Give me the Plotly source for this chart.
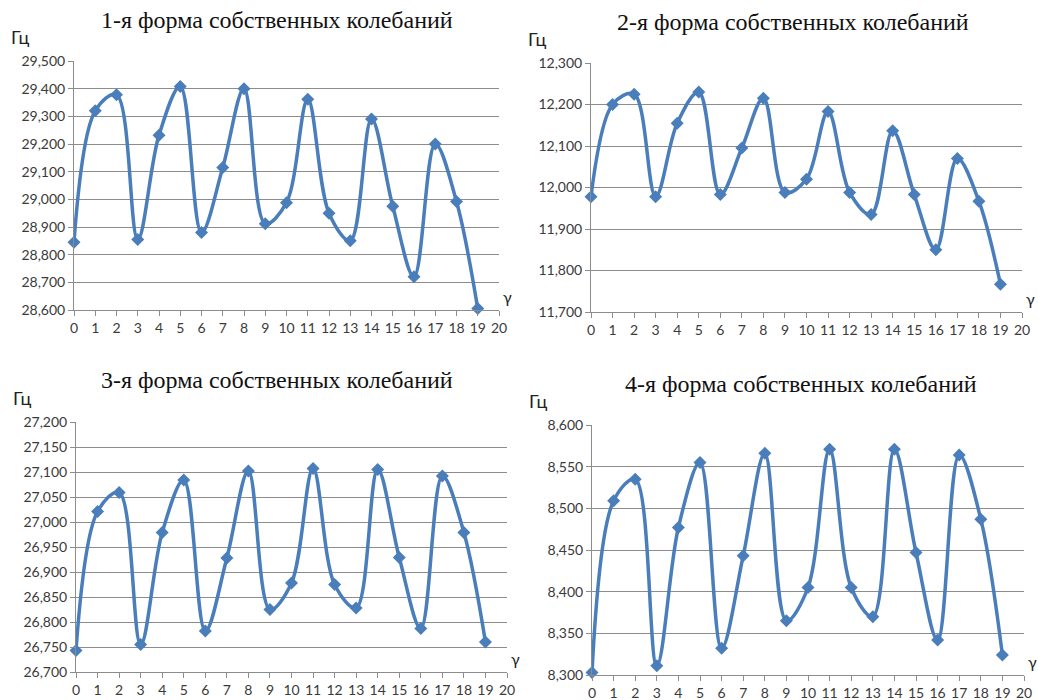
import plotly.graph_objects as go

gamma = list(range(20))

mode1 = [28845, 29320, 29378, 28855, 29232, 29408, 28880, 29115, 29400, 28912,
         28988, 29362, 28950, 28850, 29290, 28975, 28720, 29200, 28992, 28605]
mode2 = [11978, 12200, 12225, 11978, 12155, 12230, 11983, 12095, 12215, 11988,
         12020, 12183, 11988, 11935, 12137, 11983, 11850, 12070, 11967, 11767]
mode3 = [26743, 27021, 27059, 26755, 26979, 27084, 26782, 26928, 27102, 26825,
         26878, 27107, 26875, 26828, 27105, 26929, 26787, 27092, 26979, 26760]
mode4 = [8303, 8509, 8535, 8311, 8477, 8555, 8332, 8443, 8566, 8365,
         8405, 8571, 8405, 8370, 8571, 8447, 8342, 8564, 8487, 8324]

titles = ["1-я форма собственных колебаний", "2-я форма собственных колебаний",
          "3-я форма собственных колебаний", "4-я форма собственных колебаний"]
y_ranges = [(28600, 29500, 100), (11700, 12300, 100), (26700, 27200, 50), (8300, 8600, 50)]
series = [mode1, mode2, mode3, mode4]

W, H = 1038, 700
# plot areas in pixels: (x0, x1, ytop, ybottom)
areas = [(74, 499, 61, 310), (591, 1022, 63, 312), (76, 507, 422, 672), (592, 1024, 425, 675)]
title_pos = [(277, 20), (793, 22), (277, 380), (801, 384)]

LINE = "#4A7EBB"
GRID = "#8C8C8C"
TXT = "#3A3A3A"
TICKFONT = dict(family="Lato, Open Sans, sans-serif", size=14, color=TXT)

fig = go.Figure()
layout = dict(width=W, height=H, margin=dict(l=0, r=0, t=0, b=0, autoexpand=False),
              paper_bgcolor="white", plot_bgcolor="white", showlegend=False,
              annotations=[])

for i in range(4):
    n = "" if i == 0 else str(i + 1)
    x0, x1, yt, yb = areas[i]
    lo, hi, dt = y_ranges[i]
    fig.add_trace(go.Scatter(
        x=gamma, y=series[i], mode="lines+markers",
        line=dict(color=LINE, width=3.5, shape="spline", smoothing=1.0),
        marker=dict(symbol="diamond", size=10, color=LINE),
        cliponaxis=False, xaxis="x" + n, yaxis="y" + n))
    layout["xaxis" + n] = dict(
        domain=[x0 / W, x1 / W], range=[0, 20], anchor="y" + n, automargin=False,
        tickmode="linear", tick0=0, dtick=1, ticks="outside", ticklen=5,
        tickcolor=GRID, showline=True, linecolor=GRID, linewidth=1,
        showgrid=False, zeroline=False, tickfont=TICKFONT)
    layout["yaxis" + n] = dict(
        domain=[1 - yb / H, 1 - yt / H], range=[lo, hi], anchor="x" + n, automargin=False,
        tickmode="linear", tick0=lo, dtick=dt, tickformat=",d",
        ticks="outside", ticklen=5, tickcolor=GRID,
        showline=True, linecolor=GRID, linewidth=1,
        showgrid=True, gridcolor=GRID, gridwidth=1, zeroline=False, tickfont=TICKFONT)
    tx, ty = title_pos[i]
    layout["annotations"].append(dict(
        text=titles[i], x=tx / W, y=1 - ty / H, xref="paper", yref="paper",
        showarrow=False, xanchor="center", yanchor="middle",
        font=dict(family="Liberation Serif, Times New Roman, serif", size=24, color="#111111")))
    layout["annotations"].append(dict(
        text="Гц", x=(x0 - 65) / W, y=1 - (yt - 24) / H, xref="paper", yref="paper",
        showarrow=False, xanchor="left", yanchor="middle",
        font=dict(family="Lato, Open Sans, sans-serif", size=18, color="#222222")))
    layout["annotations"].append(dict(
        text="γ", x=(x1 + 2) / W, y=1 - (yb - 14) / H, xref="paper", yref="paper",
        showarrow=False, xanchor="left", yanchor="middle",
        font=dict(family="Lato, Open Sans, sans-serif", size=16, color="#222222")))

fig.update_layout(**layout)
fig.write_html("out.html",
               config={"displayModeBar": False},
               post_script="document.body.style.margin='0';document.body.style.overflow='hidden';")
